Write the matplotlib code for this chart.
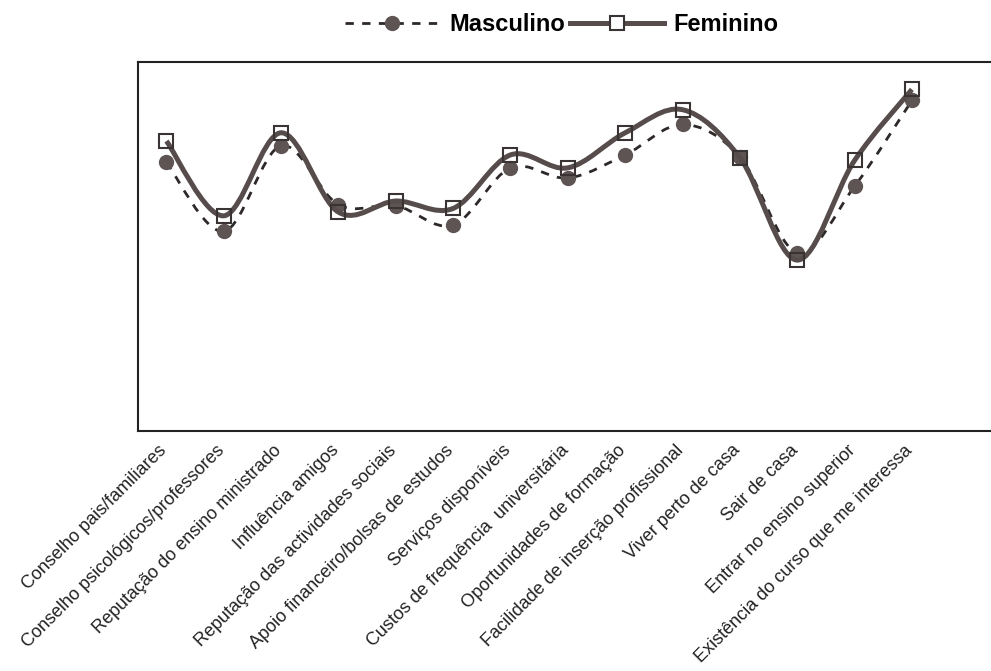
import matplotlib
matplotlib.use("Agg")
import matplotlib.pyplot as plt
import matplotlib.transforms as mtransforms
import numpy as np
from matplotlib.path import Path
from matplotlib.patches import PathPatch
from matplotlib.lines import Line2D

plt.rcParams["font.family"] = ["Liberation Sans", "DejaVu Sans"]

categorias = [
    "Conselho pais/familiares",
    "Conselho psicológicos/professores",
    "Reputação do ensino ministrado",
    "Influência amigos",
    "Reputação das actividades sociais",
    "Apoio financeiro/bolsas de estudos",
    "Serviços disponíveis",
    "Custos de frequência  universitária",
    "Oportunidades de formação",
    "Facilidade de inserção profissional",
    "Viver perto de casa",
    "Sair de casa",
    "Entrar no ensino superior",
    "Existência do curso que me interessa",
]
masculino = [3.91, 3.16, 4.09, 3.45, 3.44, 3.23, 3.85, 3.74, 3.99, 4.32, 3.97, 2.93, 3.65, 4.58]
feminino = [4.14, 3.33, 4.23, 3.37, 3.49, 3.41, 3.99, 3.85, 4.23, 4.48, 3.96, 2.85, 3.93, 4.70]

cor_linha = "#574c4c"
cor_marca = "#5e5454"
cor_borda = "#3a3333"


def smooth_path(x, y):
    # bezier curve through the points (like a spreadsheet "smoothed line")
    pts = np.column_stack([x, y])
    n = len(pts)
    verts = [pts[0]]
    codes = [Path.MOVETO]
    for i in range(n - 1):
        p0 = pts[i - 1] if i > 0 else pts[i]
        p1 = pts[i]
        p2 = pts[i + 1]
        p3 = pts[i + 2] if i + 2 < n else pts[i + 1]
        c1 = p1 + (p2 - p0) / 6.0
        c2 = p2 - (p3 - p1) / 6.0
        verts += [c1, c2, p2]
        codes += [Path.CURVE4] * 3
    return Path(verts, codes)


fig = plt.figure(figsize=(9.91, 6.71), dpi=100)
ax = fig.add_axes([0.139, 0.358, 0.868, 0.550])

x = np.arange(len(categorias))

ax.add_patch(PathPatch(smooth_path(x, masculino), facecolor="none", edgecolor="#2e2828",
                       lw=2.0, linestyle=(0, (3, 3)), zorder=2))
ax.plot(x, masculino, linestyle="none", marker="o", markersize=10,
        markerfacecolor=cor_marca, markeredgecolor=cor_marca, zorder=3)

ax.add_patch(PathPatch(smooth_path(x, feminino), facecolor="none", edgecolor=cor_linha,
                       lw=3.6, zorder=4))
ax.plot(x, feminino, linestyle="none", marker="s", markersize=10,
        markerfacecolor="none", markeredgecolor=cor_borda, markeredgewidth=1.5, zorder=5)

ax.set_xlim(-0.5, 14.5)
ax.set_ylim(1, 5)
ax.set_yticks([])
ax.set_xticks(x)
ax.set_xticklabels(categorias, rotation=45, ha="right", rotation_mode="anchor",
                   fontsize=13, color="#222222")
ax.tick_params(axis="x", length=0, pad=8)
desloca = mtransforms.ScaledTranslation(-0.08, 0, fig.dpi_scale_trans)
for lab in ax.get_xticklabels():
    lab.set_transform(lab.get_transform() + desloca)
for s in ax.spines.values():
    s.set_linewidth(1.5)
    s.set_color("#222222")

h_masc = Line2D([], [], color="#2e2828", lw=2.0, linestyle=(0, (3, 3)), marker="o",
                markersize=10, markerfacecolor=cor_marca, markeredgecolor=cor_marca)
h_fem = Line2D([], [], color=cor_linha, lw=3.6, marker="s", markersize=10,
               markerfacecolor="white", markeredgecolor=cor_borda, markeredgewidth=1.5)
fig.legend([h_masc, h_fem], ["Masculino", "Feminino"], loc="center",
           bbox_to_anchor=(0.567, 0.963), ncol=2, frameon=False,
           handlelength=4.0, handletextpad=0.4, columnspacing=0.2,
           prop={"weight": "bold", "size": 17})

fig.savefig("out.png", dpi=100, facecolor="white")
